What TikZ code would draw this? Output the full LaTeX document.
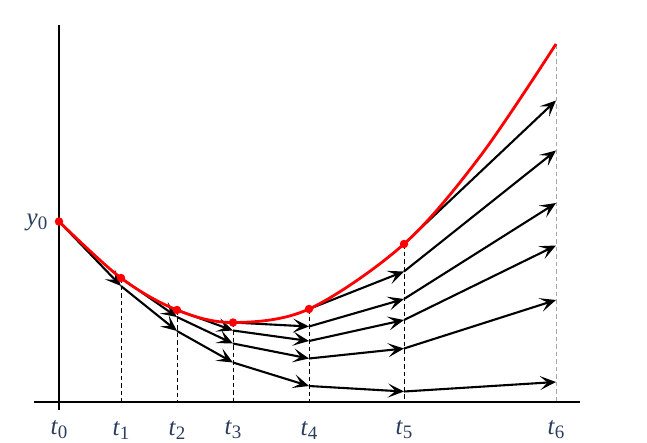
\documentclass[tikz,border=0pt]{standalone}
\usepackage{fontspec}
\setmainfont{Liberation Serif}
\usetikzlibrary{arrows.meta}
\definecolor{lab}{RGB}{44,62,94}
\tikzset{
  arr/.style={line width=2.1pt,-{Stealth[length=16pt,width=14pt,inset=7.5pt]}},
  guide/.style={line width=1pt,dash pattern=on 4.5pt off 3pt},
  axis/.style={line width=2.2pt},
  dot/.style={circle,fill=red,inner sep=0pt,minimum size=8.5pt},
  lbl/.style={text=lab,font=\fontsize{25}{28}\selectfont,inner sep=0pt}
}
\newcommand{\tl}[1]{\textit{t}\raisebox{-0.35ex}{\fontsize{19}{22}\selectfont #1}}
\begin{document}
\begin{tikzpicture}[x=1pt,y=-1pt]
\useasboundingbox (0,0) rectangle (647,442);
% axes
\coordinate (yt) at (59,25);
\coordinate (yb) at (59,410);
\coordinate (xl) at (34,402);
\coordinate (xr) at (580,402);
\draw[axis] (yt) -- (yb);
\draw[axis] (xl) -- (xr);
% red points
\coordinate (R0) at (59,221.5);
\coordinate (R1) at (121,278);
\coordinate (R2) at (177,310);
\coordinate (R3) at (233,322.5);
\coordinate (R4) at (309,309);
\coordinate (R5) at (404,244);
\coordinate (R6) at (556,44);
% axis feet
\coordinate (F1) at (121,402);
\coordinate (F2) at (177,402);
\coordinate (F3) at (233,402);
\coordinate (F4) at (309,402);
\coordinate (F5) at (404,402);
\coordinate (F6) at (556,402);
% guides
\foreach \i in {1,...,5} \draw[guide] (R\i) -- (F\i);
\draw[guide,gray!70] (R6) -- (F6);
% Euler paths
\coordinate (A1) at (121,286);
\coordinate (A2) at (177,331);
\coordinate (A3) at (233,362.5);
\coordinate (A4) at (309,386);
\coordinate (A5) at (404,391.5);
\coordinate (A6) at (556,382);
\coordinate (B2) at (177,317);
\coordinate (B3) at (233,343.5);
\coordinate (B4) at (309,358.5);
\coordinate (B5) at (404,348.5);
\coordinate (B6) at (556,300);
\coordinate (C3) at (233,330.5);
\coordinate (C4) at (309,341);
\coordinate (C5) at (404,320);
\coordinate (C6) at (556,245.5);
\coordinate (D4) at (309,326.5);
\coordinate (D5) at (404,299);
\coordinate (D6) at (556,203);
\coordinate (E5) at (404,271.5);
\coordinate (E6) at (556,150.5);
\coordinate (G6) at (556,100.5);
\draw[arr] (R0) -- (A1);
\draw[arr] (A1) -- (A2);
\draw[arr] (A2) -- (A3);
\draw[arr] (A3) -- (A4);
\draw[arr] (A4) -- (A5);
\draw[arr] (A5) -- (A6);
\draw[arr] (R1) -- (B2);
\draw[arr] (B2) -- (B3);
\draw[arr] (B3) -- (B4);
\draw[arr] (B4) -- (B5);
\draw[arr] (B5) -- (B6);
\draw[arr] (R2) -- (C3);
\draw[arr] (C3) -- (C4);
\draw[arr] (C4) -- (C5);
\draw[arr] (C5) -- (C6);
\draw[arr] (R3) -- (D4);
\draw[arr] (D4) -- (D5);
\draw[arr] (D5) -- (D6);
\draw[arr] (R4) -- (E5);
\draw[arr] (E5) -- (E6);
\draw[arr] (R5) -- (G6);
% exact solution
\draw[red,line width=2.8pt] plot[smooth,tension=0.55] coordinates {(59,221.5) (121,278) (177,310) (233,322.5) (309,309) (404,244) (480,156.5) (556,44)};
\foreach \i in {0,...,5} \node[dot] (d\i) at (R\i) {};
% labels
\node[lbl] (ly) at (37,222) {\textit{y}\raisebox{-0.35ex}{\fontsize{19}{22}\selectfont 0}};
\node[lbl] (l0) at (59,430) {\tl{0}};
\node[lbl] (l1) at (121,430) {\tl{1}};
\node[lbl] (l2) at (177,430) {\tl{2}};
\node[lbl] (l3) at (233,430) {\tl{3}};
\node[lbl] (l4) at (309,430) {\tl{4}};
\node[lbl] (l5) at (404,430) {\tl{5}};
\node[lbl] (l6) at (556,430) {\tl{6}};
\end{tikzpicture}
\end{document}
